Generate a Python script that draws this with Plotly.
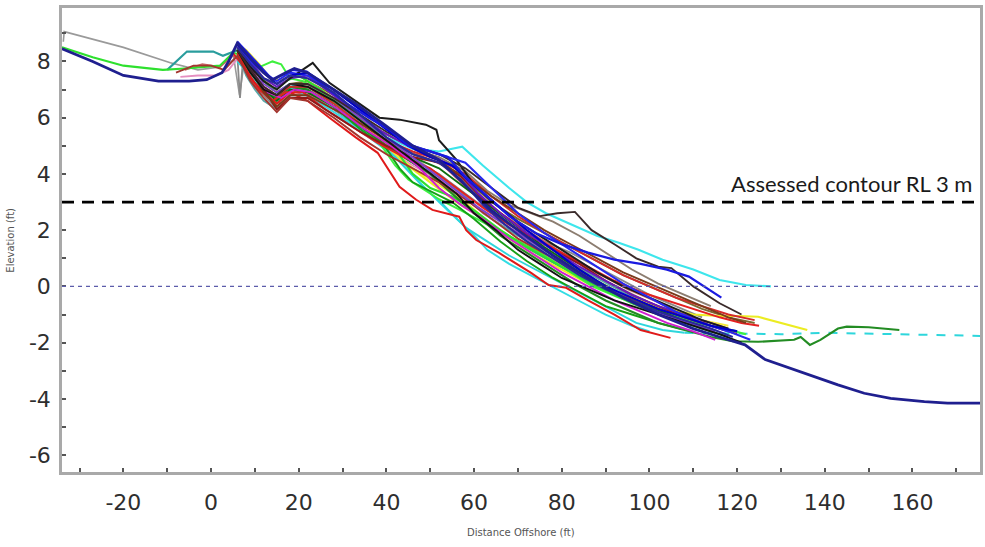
import plotly.graph_objects as go

# ---- Beach profile surveys: distance offshore (ft) vs elevation (ft) ----

navy_x = [-34, -27, -20, -12, -5, -1, 2.5, 4, 6, 9, 12, 14, 17, 19, 22, 27, 33, 40, 46, 52, 58, 64, 70, 78, 86, 94, 102, 110, 116, 121.8, 126.4, 131, 137.7, 143, 149, 155, 162.7, 168, 175.5]
navy_y = [8.45, 8.0, 7.5, 7.3, 7.3, 7.35, 7.6, 8.0, 8.65, 8.1, 7.6, 7.35, 7.6, 7.75, 7.6, 7.1, 6.5, 5.7, 5.0, 4.5, 3.6, 2.7, 2.0, 1.1, 0.3, -0.4, -1.0, -1.5, -1.8, -2.08, -2.6, -2.85, -3.2, -3.5, -3.8, -3.98, -4.1, -4.15, -4.15]

lime_x = [-34, -27, -20, -11, -6, -2, 2, 5, 8, 11, 14, 17, 20, 25, 30, 36, 42, 46, 50, 55, 60, 66, 72, 80, 88, 96, 104, 112]
lime_y = [8.5, 8.15, 7.85, 7.7, 7.75, 7.8, 7.85, 8.3, 8.2, 7.5, 7.0, 7.3, 7.5, 7.0, 6.4, 5.7, 4.9, 4.0, 3.5, 3.2, 2.7, 2.0, 1.4, 0.7, 0.0, -0.6, -1.1, -1.5]

gray_x = [-33.7, -33.5, -20, -9.3, -3, 2, 5, 6.5, 7.5, 9, 12, 15, 18, 22, 28, 35, 42, 48, 55, 62, 70, 78, 86, 95, 103, 112]
gray_y = [8.7, 9.06, 8.5, 7.95, 7.7, 7.8, 8.3, 6.8, 7.9, 7.3, 6.9, 6.5, 7.0, 7.0, 6.4, 5.6, 5.0, 4.4, 3.6, 2.6, 1.8, 1.1, 0.5, -0.2, -0.8, -1.3]

teal_x = [-10, -5.5, 0.5, 2.7, 6, 8, 11, 14, 16, 19, 24, 30, 36, 42, 48, 54, 60, 66, 74, 82, 90, 98, 106, 114, 120]
teal_y = [7.7, 8.35, 8.35, 8.2, 8.4, 7.7, 7.1, 6.6, 6.8, 7.1, 6.8, 6.2, 5.5, 4.8, 4.2, 3.5, 2.7, 1.9, 1.2, 0.5, -0.1, -0.6, -1.0, -1.4, -1.6]

brown_x = [-8, -4, 0, 3, 6, 9, 12, 15, 18, 22, 28, 34, 40, 46, 52, 58, 64, 70, 78, 86, 94, 102, 110, 118]
brown_y = [7.6, 7.85, 7.85, 7.7, 8.2, 7.3, 6.7, 6.2, 6.7, 6.6, 6.0, 5.3, 4.7, 4.2, 3.7, 3.1, 2.4, 1.7, 1.0, 0.3, -0.3, -0.8, -1.2, -1.6]

pink_x = [-7, -3, 1, 4, 6, 9, 12, 15, 18, 22, 28, 34, 40, 46, 52, 58, 64, 70, 76, 82, 88, 94, 100, 106]
pink_y = [7.45, 7.5, 7.5, 7.7, 8.1, 7.4, 6.9, 6.5, 6.8, 6.8, 6.2, 5.5, 4.9, 4.3, 3.8, 3.1, 2.5, 1.9, 1.3, 0.8, 0.2, -0.3, -0.8, -1.2]

rose_x = [-6, -2, 2, 5, 7, 10, 13, 16, 19, 23, 29, 35, 41, 47, 53, 59, 65, 71, 77, 83, 89, 95, 101, 107, 113]
rose_y = [7.7, 7.9, 7.8, 8.2, 8.0, 7.2, 6.7, 6.5, 6.9, 6.8, 6.2, 5.6, 5.1, 4.7, 4.3, 3.4, 2.7, 2.1, 1.5, 0.9, 0.4, -0.1, -0.5, -0.9, -1.3]

redlow_x = [6, 9, 12, 15, 18, 22, 27, 33, 38, 43, 46.8, 50.5, 56.6, 58.2, 60.5, 65.7, 73, 77, 81, 86, 92, 98, 104.8]
redlow_y = [8.3, 7.4, 6.9, 6.5, 6.9, 6.6, 6.0, 5.3, 4.75, 3.54, 3.08, 2.72, 2.48, 2.0, 1.65, 1.19, 0.48, 0.05, -0.05, -0.5, -1.0, -1.55, -1.83]

blacktop_x = [6, 9, 12, 15, 18, 20, 23.2, 27, 32, 38.4, 43, 49, 51.4, 52, 56, 60, 65, 70, 76, 82, 88, 94, 100, 106, 112, 118]
blacktop_y = [8.4, 7.8, 7.3, 7.0, 7.4, 7.6, 7.95, 7.24, 6.7, 6.0, 5.93, 5.75, 5.57, 5.2, 4.5, 3.6, 2.9, 2.3, 1.7, 1.1, 0.5, 0.0, -0.4, -0.8, -1.2, -1.5]

darkbrown_x = [6, 9, 12, 15, 18, 22, 28, 34, 40, 46, 52, 58, 64, 70, 75, 79, 83, 86.8, 92, 97, 102, 105, 110, 116, 121]
darkbrown_y = [8.4, 7.7, 7.1, 6.8, 7.2, 7.2, 6.7, 6.1, 5.5, 5.0, 4.7, 4.2, 3.5, 2.8, 2.5, 2.6, 2.65, 2.0, 1.5, 1.0, 0.7, 0.65, 0.0, -0.6, -1.0]

cyantop_x = [6, 9, 12, 15, 18, 22, 28, 34, 40, 46, 52, 57.3, 62, 68, 72, 76.4, 82, 88, 93, 97.5, 103, 110, 116, 122, 127.7]
cyantop_y = [8.2, 7.5, 7.0, 6.6, 7.0, 7.0, 6.5, 5.9, 5.3, 4.9, 4.8, 4.97, 4.3, 3.5, 3.0, 2.6, 2.2, 1.8, 1.55, 1.3, 0.95, 0.6, 0.23, 0.05, 0.0]

cyan_x = [6, 10, 14, 18, 24, 30, 36, 42, 48, 53, 58, 62, 68, 74, 80, 86, 92, 97, 103, 108]
cyan_y = [8.0, 7.3, 6.8, 7.2, 6.8, 6.1, 5.4, 4.6, 3.6, 2.9, 2.1, 1.7, 1.1, 0.6, 0.1, -0.4, -0.9, -1.3, -1.55, -1.65]
cyanext_x = [108, 120, 130, 140, 150, 160, 175.5]
cyanext_y = [-1.65, -1.68, -1.7, -1.65, -1.68, -1.72, -1.76]

cyanlow_x = [6, 10, 14, 18, 24, 30, 36, 42, 47, 52, 56, 59.5, 63, 68, 74, 80, 85, 90, 96, 100]
cyanlow_y = [8.1, 7.3, 6.7, 7.1, 6.6, 6.0, 5.3, 4.6, 3.8, 3.0, 2.4, 1.9, 1.3, 0.8, 0.3, -0.2, -0.6, -1.0, -1.4, -1.6]

dkgreen_x = [6, 9, 12, 15, 18, 22, 28, 34, 40, 45, 50, 55, 60, 66, 72, 78, 84, 90, 96, 102, 108, 114, 119, 124.8, 133, 134.5, 136.6, 139, 143, 145, 150, 156, 157]
dkgreen_y = [8.4, 7.7, 7.1, 6.7, 7.1, 7.0, 6.4, 5.7, 5.0, 4.5, 4.0, 3.3, 2.6, 1.8, 1.2, 0.6, 0.0, -0.5, -0.9, -1.3, -1.55, -1.8, -1.95, -1.97, -1.9, -1.8, -2.08, -1.9, -1.5, -1.43, -1.45, -1.55, -1.55]

yellow_x = [6, 8, 11, 14, 17, 20, 26, 32, 38, 44, 50, 56, 62, 68, 74, 80, 86, 92, 98, 104, 110, 116, 120, 124.8, 130, 136]
yellow_y = [8.6, 8.4, 7.9, 7.3, 7.4, 7.5, 6.9, 6.2, 5.3, 4.4, 3.7, 3.0, 2.4, 1.7, 1.1, 0.6, 0.1, -0.3, -0.6, -0.8, -1.0, -1.05, -1.05, -1.08, -1.3, -1.55]

yellow2_x = [8, 12, 15, 18, 22, 28, 34, 40, 46, 52, 58, 64, 70, 76, 82, 88, 94, 100, 106, 112, 118]
yellow2_y = [8.2, 7.4, 6.9, 7.2, 7.2, 6.6, 5.8, 5.0, 4.2, 3.6, 3.0, 2.2, 1.6, 1.1, 0.6, 0.1, -0.3, -0.6, -0.9, -1.2, -1.4]

blue1_x = [6, 9, 12, 14, 16, 18.6, 21.8, 26, 31, 36, 40.7, 45, 50, 54, 58, 63, 68, 74, 80, 86, 92, 98, 104, 109, 116.4]
blue1_y = [8.7, 8.2, 7.7, 7.35, 7.5, 7.7, 7.64, 7.1, 6.5, 6.0, 5.57, 5.0, 4.8, 4.6, 3.9, 3.2, 2.5, 1.9, 1.5, 1.2, 0.95, 0.8, 0.6, 0.35, -0.4]

red_x = [5, 8, 11, 14, 17, 21, 26, 32, 38, 44, 50, 56, 62, 68, 74, 80, 86, 92, 98, 104, 110, 116, 121, 125]
red_y = [8.3, 7.7, 7.0, 6.6, 6.9, 6.9, 6.3, 5.7, 5.1, 4.6, 4.2, 3.5, 2.8, 2.2, 1.7, 1.2, 0.7, 0.2, -0.2, -0.5, -0.8, -1.1, -1.3, -1.4]

darkred_x = [6, 9, 12, 15, 18, 22, 28, 34, 40, 46, 52, 57, 62, 67, 72, 78, 84, 90, 96, 102, 108, 114, 120]
darkred_y = [8.5, 7.8, 7.0, 6.3, 6.7, 6.7, 6.1, 5.5, 5.0, 4.6, 4.4, 3.9, 3.1, 2.5, 1.9, 1.3, 0.8, 0.2, -0.3, -0.7, -1.1, -1.4, -1.7]

purple_x = [6, 9, 12, 15, 18, 22, 27, 33, 39, 45, 51, 56, 61, 66, 72, 78, 84, 90, 96, 102, 108, 114, 118]
purple_y = [8.6, 8.0, 7.4, 7.1, 7.4, 7.5, 6.9, 6.2, 5.5, 5.0, 4.6, 4.2, 3.3, 2.6, 1.9, 1.3, 0.7, 0.2, -0.3, -0.7, -1.0, -1.3, -1.5]

magenta_x = [7, 10, 13, 16, 19, 23, 29, 35, 41, 47, 52, 57, 62, 68, 74, 80, 86, 92, 98, 104, 110, 115]
magenta_y = [8.2, 7.5, 6.9, 6.7, 7.0, 6.9, 6.3, 5.6, 5.0, 4.3, 3.5, 2.9, 2.4, 1.7, 1.1, 0.5, 0.0, -0.5, -0.9, -1.3, -1.6, -1.9]

green_x = [6, 9, 12, 15, 18, 22, 28, 34, 40, 43, 46, 50, 55, 60, 66, 72, 78, 84, 90, 96, 102, 107]
green_y = [8.3, 7.6, 7.0, 6.7, 7.1, 7.0, 6.4, 5.6, 4.9, 4.2, 3.7, 3.4, 3.0, 2.4, 1.6, 0.9, 0.3, -0.2, -0.7, -1.0, -1.3, -1.5]

ltgreen_x = [8, 11, 14, 16, 18, 21, 26, 32, 38, 42, 45, 48, 52, 57, 63, 69, 75, 81, 87, 93, 99, 105, 111, 117, 122]
ltgreen_y = [8.2, 7.8, 8.0, 7.9, 7.4, 7.3, 6.8, 6.0, 5.2, 4.3, 3.8, 3.5, 3.1, 2.7, 2.2, 1.7, 1.2, 0.6, 0.0, -0.4, -0.7, -1.0, -1.3, -1.5, -1.7]

blue2_x = [6, 9, 12, 15, 18, 22, 28, 34, 40, 46, 52, 58, 64, 70, 76, 82, 88, 94, 100, 106, 112, 118, 123]
blue2_y = [8.6, 8.0, 7.6, 7.3, 7.6, 7.5, 7.0, 6.3, 5.6, 5.0, 4.7, 4.4, 3.5, 2.6, 1.9, 1.3, 0.7, 0.1, -0.4, -0.9, -1.3, -1.6, -1.9]

black_x = [6, 9, 12, 15, 18, 22, 28, 34, 40, 46, 51, 56, 60, 65, 70, 75, 80, 86, 92, 98, 104, 110, 116, 121]
black_y = [8.4, 7.6, 7.0, 6.8, 7.2, 7.1, 6.6, 5.9, 5.2, 4.5, 3.9, 3.3, 2.6, 2.0, 1.3, 0.8, 0.3, -0.1, -0.5, -0.8, -1.1, -1.4, -1.7, -2.0]

olive_x = [6, 9, 12, 15, 18, 22, 28, 34, 40, 46, 52, 58, 64, 70, 76, 82, 88, 94, 100, 106, 112, 118, 124]
olive_y = [8.5, 7.9, 7.3, 6.9, 7.2, 7.3, 6.8, 6.0, 5.4, 4.9, 4.5, 3.8, 3.0, 2.4, 1.9, 1.4, 0.9, 0.4, 0.0, -0.4, -0.8, -1.1, -1.3]

taupe_x = [6, 9, 12, 15, 18, 22, 28, 34, 40, 46, 52, 58, 63, 68, 73, 78, 84, 90, 96, 102, 108, 114]
taupe_y = [8.3, 7.6, 7.0, 6.6, 7.0, 7.1, 6.6, 6.0, 5.4, 4.9, 4.6, 4.1, 3.4, 2.9, 2.6, 2.3, 1.8, 1.2, 0.6, 0.1, -0.3, -0.7]

blue3_x = [6, 9, 12, 15, 18, 22, 27, 33, 39, 45, 50, 55, 60, 66, 72, 78, 84, 90, 96, 102, 108, 114, 120]
blue3_y = [8.6, 8.1, 7.6, 7.2, 7.5, 7.6, 7.1, 6.4, 5.7, 5.0, 4.6, 4.3, 3.6, 2.8, 2.0, 1.3, 0.6, 0.0, -0.4, -0.8, -1.1, -1.4, -1.6]

navy2_x = [6, 9, 12, 15, 18, 22, 28, 34, 40, 46, 52, 57, 62, 67, 72, 78, 84, 90, 96, 102, 108, 114, 119]
navy2_y = [8.5, 7.9, 7.4, 7.2, 7.5, 7.4, 6.9, 6.1, 5.3, 4.7, 4.4, 3.8, 2.9, 2.2, 1.6, 1.0, 0.4, -0.1, -0.5, -0.9, -1.2, -1.5, -1.8]

red3_x = [6, 9, 12, 15, 18, 22, 28, 34, 40, 46, 52, 58, 64, 70, 76, 82, 88, 94, 100, 106, 112, 118, 124]
red3_y = [8.4, 7.7, 7.1, 6.8, 7.1, 7.1, 6.5, 5.8, 5.2, 4.8, 4.5, 4.0, 3.2, 2.5, 1.9, 1.4, 0.9, 0.4, 0.0, -0.4, -0.7, -1.0, -1.2]

dkgreen2_x = [6, 9, 12, 15, 18, 22, 28, 34, 40, 46, 52, 58, 64, 70, 76, 82, 88, 94, 100, 106, 112, 118]
dkgreen2_y = [8.4, 7.7, 7.0, 6.6, 7.0, 6.9, 6.4, 5.7, 5.0, 4.6, 4.2, 3.5, 2.8, 2.1, 1.4, 0.8, 0.2, -0.3, -0.7, -1.1, -1.5, -1.8]

gray2_x = [4, 6, 6.6, 7.2, 9, 12, 15, 18, 22, 28, 34, 40, 46, 52, 58, 64, 70, 76, 82, 88, 94, 100, 106, 112]
gray2_y = [7.9, 8.2, 6.7, 7.9, 7.3, 6.8, 6.3, 6.8, 6.8, 6.3, 5.7, 5.1, 4.5, 4.0, 3.3, 2.6, 2.0, 1.6, 1.2, 0.7, 0.2, -0.3, -0.7, -1.1]

tealgray_x = [6, 8, 10, 12, 14, 15.5, 18, 22, 28, 34, 40, 46, 52, 58, 64, 70, 76, 82, 88, 94, 100, 106, 112]
tealgray_y = [8.3, 7.5, 7.0, 6.6, 6.4, 6.3, 6.8, 6.8, 6.3, 5.6, 5.0, 4.4, 3.9, 3.2, 2.4, 1.8, 1.3, 0.8, 0.3, -0.2, -0.6, -1.0, -1.3]

purple2_x = [6, 9, 12, 15, 18, 22, 28, 34, 40, 46, 51, 56, 61, 67, 73, 79, 85, 91, 97, 103, 109, 115]
purple2_y = [8.5, 7.9, 7.2, 6.9, 7.2, 7.2, 6.7, 6.0, 5.3, 4.6, 4.0, 3.4, 2.8, 2.2, 1.6, 1.0, 0.4, -0.1, -0.6, -1.0, -1.3, -1.6]

brown2_x = [6, 9, 12, 15, 18, 22, 28, 34, 40, 46, 52, 58, 64, 70, 76, 82, 88, 94, 100, 106, 112, 118, 122]
brown2_y = [8.4, 7.7, 6.9, 6.4, 6.8, 6.8, 6.3, 5.8, 5.2, 4.7, 4.4, 3.9, 3.2, 2.6, 2.0, 1.5, 1.0, 0.5, 0.1, -0.3, -0.7, -1.1, -1.3]

# Reference levels, axis ranges and tick labels
contour_level = 3
datum_level = 0
contour_label = "Assessed contour RL 3 m"
x_range = [-34, 175.4]
y_range = [-6.6, 9.9]
x_tickvals = [-20, 0, 20, 40, 60, 80, 100, 120, 140, 160]
x_ticktext = ["-20", "0", "20", "40", "60", "80", "100", "120", "140", "160"]
y_tickvals = [-6, -4, -2, 0, 2, 4, 6, 8]
y_ticktext = ["-6", "-4", "-2", "0", "2", "4", "6", "8"]

# (x, y, colour, width, dash) — drawn back to front
profiles = [
    (gray_x, gray_y, "#9a9a9a", 1.6, "solid"),
    (gray2_x, gray2_y, "#8a8a8a", 1.8, "solid"),
    (tealgray_x, tealgray_y, "#5aa8a8", 1.9, "solid"),
    (teal_x, teal_y, "#2a9d9d", 2.1, "solid"),
    (pink_x, pink_y, "#e58fc0", 1.9, "solid"),
    (rose_x, rose_y, "#c86464", 1.9, "solid"),
    (olive_x, olive_y, "#7a6a30", 1.9, "solid"),
    (taupe_x, taupe_y, "#8c7d70", 1.9, "solid"),
    (yellow_x, yellow_y, "#ecec22", 2.1, "solid"),
    (yellow2_x, yellow2_y, "#f4e83c", 1.9, "solid"),
    (cyanlow_x, cyanlow_y, "#33dde4", 1.9, "solid"),
    (cyan_x, cyan_y, "#2ed6dc", 1.9, "solid"),
    (cyanext_x, cyanext_y, "#2ed6dc", 2.0, "dash"),
    (cyantop_x, cyantop_y, "#3ee6ec", 2.1, "solid"),
    (ltgreen_x, ltgreen_y, "#3ef03e", 2.0, "solid"),
    (lime_x, lime_y, "#2ee02e", 2.1, "solid"),
    (green_x, green_y, "#16a016", 1.9, "solid"),
    (dkgreen2_x, dkgreen2_y, "#0e6e0e", 1.9, "solid"),
    (dkgreen_x, dkgreen_y, "#238c23", 2.1, "solid"),
    (red3_x, red3_y, "#d42a2a", 1.9, "solid"),
    (red_x, red_y, "#e42020", 2.0, "solid"),
    (redlow_x, redlow_y, "#e01a1a", 2.0, "solid"),
    (darkred_x, darkred_y, "#8e1a1a", 1.9, "solid"),
    (brown_x, brown_y, "#a3352e", 1.9, "solid"),
    (brown2_x, brown2_y, "#7a3a1a", 1.9, "solid"),
    (magenta_x, magenta_y, "#d01ed0", 1.9, "solid"),
    (purple_x, purple_y, "#6a1ac0", 2.0, "solid"),
    (purple2_x, purple2_y, "#8040d0", 1.9, "solid"),
    (black_x, black_y, "#121212", 1.9, "solid"),
    (blacktop_x, blacktop_y, "#1c1c1c", 2.0, "solid"),
    (darkbrown_x, darkbrown_y, "#3a2a2a", 1.9, "solid"),
    (blue2_x, blue2_y, "#2828ee", 2.1, "solid"),
    (blue3_x, blue3_y, "#0000c8", 2.1, "solid"),
    (blue1_x, blue1_y, "#1a1ae0", 2.3, "solid"),
    (navy2_x, navy2_y, "#2a2a9a", 2.1, "solid"),
    (navy_x, navy_y, "#1f1f8f", 2.8, "solid"),
]

fig = go.Figure()
for px, py, col, w, dash in profiles:
    fig.add_trace(go.Scatter(x=px, y=py, mode="lines",
                             line=dict(color=col, width=w, dash=dash),
                             showlegend=False, hoverinfo="skip"))

# Mean sea level datum (dotted) and assessed contour (dashed)
fig.add_shape(type="line", xref="paper", x0=0, x1=1, yref="y", y0=datum_level, y1=datum_level,
              line=dict(color="#5c5cab", width=1.3, dash="4px,4px"), layer="above")
fig.add_shape(type="line", xref="paper", x0=0, x1=1, yref="y", y0=contour_level, y1=contour_level,
              line=dict(color="#000000", width=2.8, dash="12px,8px"), layer="above")

fig.add_annotation(text=contour_label, xref="paper", x=0.9935, xanchor="right",
                   yref="y", y=contour_level, yanchor="bottom", yshift=3,
                   showarrow=False, font=dict(family="Lato", size=22, color="#1a1a1a"))

fig.add_annotation(text="Elevation (ft)", xref="paper", x=-0.057, xanchor="center",
                   yref="paper", y=0.5, yanchor="middle", textangle=-90,
                   showarrow=False, font=dict(family="DejaVu Sans", size=10, color="#555555"))
fig.add_annotation(text="Distance Offshore (ft)", xref="paper", x=0.5, xanchor="center",
                   yref="paper", y=-0.13, yanchor="middle",
                   showarrow=False, font=dict(family="DejaVu Sans", size=10, color="#555555"))

axis_common = dict(showgrid=False, zeroline=False, showline=True, mirror=True,
                   linecolor="#a9a9a9", linewidth=2.5,
                   ticks="inside", ticklen=4, tickwidth=1.5, tickcolor="#555555",
                   tickfont=dict(family="DejaVu Sans", size=22, color="#2e2e2e"))

fig.update_xaxes(range=x_range, tickmode="array", tickvals=x_tickvals, ticktext=x_ticktext,
                 ticklabelstandoff=9,
                 minor=dict(tickmode="linear", tick0=0, dtick=10, ticks="inside", ticklen=4, tickcolor="#555555"),
                 **axis_common)
fig.update_yaxes(range=y_range, tickmode="array", tickvals=y_tickvals, ticktext=y_ticktext,
                 ticklabelstandoff=4,
                 minor=dict(tickmode="linear", tick0=0, dtick=1, ticks="inside", ticklen=4, tickcolor="#555555"),
                 **axis_common)

fig.update_layout(width=985, height=547,
                  margin=dict(l=62, r=2, t=8, b=75),
                  plot_bgcolor="white", paper_bgcolor="white")

fig.write_html("out.html")
